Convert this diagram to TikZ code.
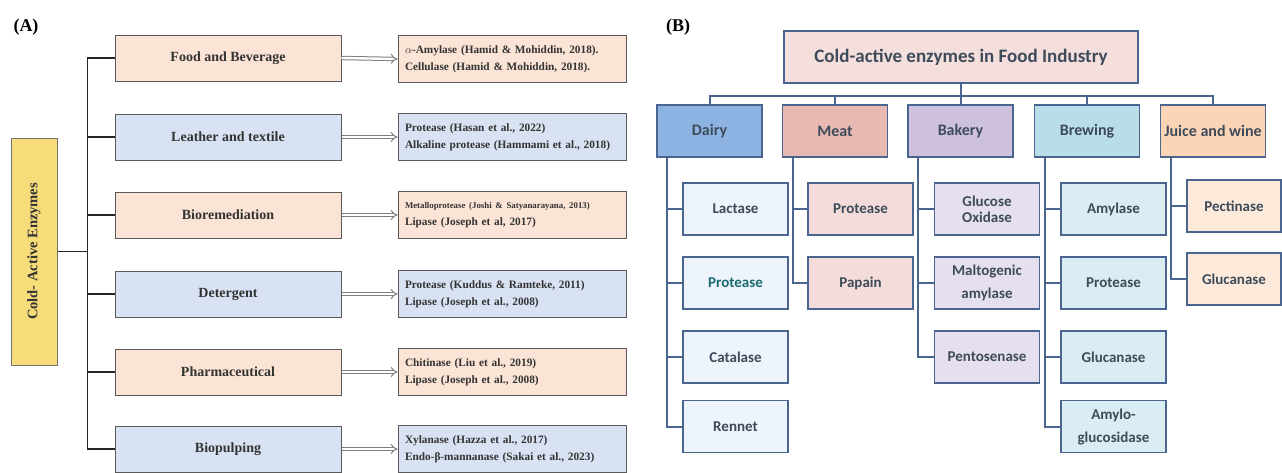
\documentclass[tikz,border=0pt]{standalone}
\usepackage{fontspec}
\setmainfont{Liberation Serif}
\newfontfamily\carlito{Carlito}
\usetikzlibrary{arrows.meta}
\definecolor{peach}{HTML}{FBE4D5}
\definecolor{lblue}{HTML}{D9E2F3}
\definecolor{gold}{HTML}{F7DC7A}
\definecolor{slate}{HTML}{4A6590}
\definecolor{ink}{HTML}{3E4B5B}
\definecolor{dairyC}{HTML}{8DB3E2}
\definecolor{meatC}{HTML}{E8B9B2}
\definecolor{bakeryC}{HTML}{CDC1DD}
\definecolor{brewC}{HTML}{B9DEEA}
\definecolor{juiceC}{HTML}{FBD5B5}
\begin{document}
\begin{tikzpicture}[x=1pt,y=-1pt,
  catA/.style={draw=black!65,line width=1pt,minimum width=226pt,minimum height=46pt,
    inner sep=0pt,text=black!80,font=\fontsize{14}{16}\selectfont\bfseries},
  refA/.style={draw=black!65,line width=1pt,minimum width=228pt,minimum height=47pt,
    text width=214pt,inner xsep=7pt,inner ysep=0pt,align=left,text=black!80,
    font=\fontsize{11.3}{17}\selectfont\bfseries},
  linkA/.style={black!85,line width=1.6pt},
  hollow/.style={black!50,line width=1pt,double=white,double distance=2.4pt,-{Implies}},
  boxB/.style={draw=slate,line width=1.4pt,minimum width=105pt,minimum height=52pt,
    inner sep=0pt,align=center,text=ink,font=\carlito\fontsize{15}{18}\selectfont\bfseries},
  catB/.style={boxB,font=\carlito\fontsize{16}{18}\selectfont\bfseries},
  linkB/.style={slate,line width=2pt}]
  \useasboundingbox (0,0) rectangle (1282,472);
  \node[font=\fontsize{18}{20}\selectfont\bfseries] (labA) at (26,27) {(A)};
  \node[font=\fontsize{18}{20}\selectfont\bfseries] (labB) at (678,27) {(B)};
  \node[draw=black!55,line width=1pt,fill=gold,minimum width=46pt,minimum height=227pt,
    inner sep=0pt,text=black!80,font=\fontsize{14.5}{16}\selectfont\bfseries]
    (root) at (34,251.5) {\rotatebox{90}{Cold- Active Enzymes}};
  \node[catA,fill=peach] (food) at (228,58) {Food and Beverage};
  \node[catA,fill=lblue] (leather) at (228,137) {Leather and textile};
  \node[catA,fill=peach] (biorem) at (228,215) {Bioremediation};
  \node[catA,fill=lblue] (deterg) at (228,294) {Detergent};
  \node[catA,fill=peach] (pharma) at (228,372) {Pharmaceutical};
  \node[catA,fill=lblue] (biopulp) at (228,449) {Biopulping};
  \node[refA,fill=peach] (foodref) at (512,59) {\(\alpha\)-Amylase (Hamid \& Mohiddin, 2018).\\Cellulase (Hamid \& Mohiddin, 2018).};
  \node[refA,fill=lblue] (leatherref) at (512,137) {Protease (Hasan et al., 2022)\\Alkaline protease (Hammami et al., 2018)};
  \node[refA,fill=peach] (bioremref) at (512,215) {{\fontsize{8.8}{17}\selectfont Metalloprotease (Joshi \& Satyanarayana, 2013)}\\Lipase (Joseph et al, 2017)};
  \node[refA,fill=lblue] (detergref) at (512,294) {Protease (Kuddus \& Ramteke, 2011)\\Lipase (Joseph et al., 2008)};
  \node[refA,fill=peach] (pharmaref) at (512,372) {Chitinase (Liu et al., 2019)\\Lipase (Joseph et al., 2008)};
  \node[refA,fill=lblue] (biopulpref) at (512,449) {Xylanase (Hazza et al., 2017)\\Endo-β-mannanase (Sakai et al., 2023)};
  \foreach \c in {food,leather,biorem,deterg,pharma,biopulp}{
    \draw[linkA] (root.east) -- ++(30,0) |- (\c.west);
    \draw[hollow] (\c.east) -- (\c ref.west);
  }
  \node[boxB,minimum width=354pt,fill=meatC!45,font=\carlito\fontsize{19}{22}\selectfont\bfseries]
    (top) at (961,57) {Cold-active enzymes in Food Industry};
  \node[catB,fill=dairyC] (dairy) at (709.5,131) {Dairy};
  \node[catB,fill=meatC] (meat) at (835,131) {Meat};
  \node[catB,fill=bakeryC] (bakery) at (960.5,131) {Bakery};
  \node[catB,fill=brewC] (brew) at (1087,131) {Brewing};
  \node[catB,fill=juiceC] (juice) at (1213,131) {Juice and wine};
  \node[boxB,fill=dairyC!15] (d1) at (735.5,209) {Lactase};
  \node[boxB,fill=dairyC!15,text=teal!60!ink] (d2) at (735.5,283) {Protease};
  \node[boxB,fill=dairyC!15] (d3) at (735.5,357) {Catalase};
  \node[boxB,fill=dairyC!15] (d4) at (735.5,426.5) {Rennet};
  \node[boxB,fill=meatC!50] (m1) at (860.5,209) {Protease};
  \node[boxB,fill=meatC!50] (m2) at (860.5,283) {Papain};
  \node[boxB,fill=bakeryC!50] (b1) at (987,209) {Glucose\\[-2pt]Oxidase};
  \node[boxB,fill=bakeryC!50] (b2) at (987,283) {Maltogenic\\[5pt]amylase};
  \node[boxB,fill=bakeryC!50] (b3) at (987,357) {Pentosenase};
  \node[boxB,fill=brewC!55] (w1) at (1113.5,209) {Amylase};
  \node[boxB,fill=brewC!55] (w2) at (1113.5,283) {Protease};
  \node[boxB,fill=brewC!55] (w3) at (1113.5,357) {Glucanase};
  \node[boxB,fill=brewC!55] (w4) at (1113.5,426.5) {Amylo-\\[5pt]glucosidase};
  \node[boxB,fill=juiceC!50,minimum width=94pt] (j1) at (1234,206) {Pectinase};
  \node[boxB,fill=juiceC!50,minimum width=94pt] (j2) at (1234,279) {Glucanase};
  \foreach \c in {dairy,meat,bakery,brew,juice}
    \draw[linkB] (top.south) -- ++(0,12) -| (\c.north);
  \foreach \c in {d1,d2,d3,d4}
    \draw[linkB] ([xshift=11pt]dairy.south west) |- (\c.west);
  \foreach \c in {m1,m2}
    \draw[linkB] ([xshift=11pt]meat.south west) |- (\c.west);
  \foreach \c in {b1,b2,b3}
    \draw[linkB] ([xshift=11pt]bakery.south west) |- (\c.west);
  \foreach \c in {w1,w2,w3,w4}
    \draw[linkB] ([xshift=11pt]brew.south west) |- (\c.west);
  \foreach \c in {j1,j2}
    \draw[linkB] ([xshift=11pt]juice.south west) |- (\c.west);
\end{tikzpicture}
\end{document}
